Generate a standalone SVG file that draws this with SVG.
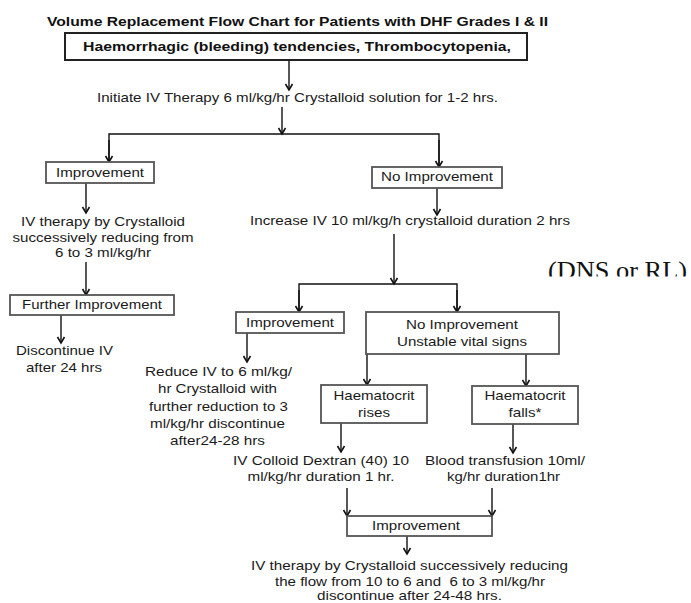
<svg xmlns="http://www.w3.org/2000/svg" width="691" height="603" viewBox="0 0 691 603">
  <defs>
    <style>
      .t { font-family: "Liberation Sans", Arial, sans-serif; font-size: 13px; fill: #1a1a1a; }
      .b { font-family: "Liberation Sans", Arial, sans-serif; font-size: 13.5px; font-weight: bold; fill: #111; }
      .box { fill: #fff; stroke: #555; stroke-width: 1.8; }
      .topbox { fill: #fff; stroke: #222; stroke-width: 2; }
      .c { stroke: #111; stroke-width: 1.4; fill: none; }
      .serif { font-family: "Liberation Serif", "Times New Roman", serif; font-size: 26px; fill: #111; }
    </style>
    <marker id="ah" viewBox="-8 -5 10 10" refX="0" refY="0" markerWidth="10" markerHeight="10" markerUnits="userSpaceOnUse" orient="auto">
      <path d="M-6,-3.5 L0,0 L-6,3.5" fill="none" stroke="#111" stroke-width="1.6"/>
    </marker>
    <clipPath id="clipDNS"><rect x="0" y="0" width="691" height="276.5"/></clipPath>
  </defs>
  <rect width="691" height="603" fill="#fff"/>

  <g id="title">
    <text class="b" x="47" y="26" textLength="501" lengthAdjust="spacingAndGlyphs">Volume Replacement Flow Chart for Patients with DHF Grades I &amp; II</text>
  </g>

  <g id="connectors">
    <line class="c" x1="289" y1="60" x2="289" y2="90" marker-end="url(#ah)"/>
    <line class="c" x1="282" y1="107" x2="282" y2="134" marker-end="url(#ah)"/>
    <polyline class="c" points="109,162 109,134 439,134 439,167"/>
    <line class="c" x1="109" y1="140" x2="109" y2="162" marker-end="url(#ah)"/>
    <line class="c" x1="439" y1="140" x2="439" y2="167" marker-end="url(#ah)"/>
    <line class="c" x1="86" y1="183" x2="86" y2="213" marker-end="url(#ah)"/>
    <line class="c" x1="86" y1="262" x2="86" y2="295" marker-end="url(#ah)"/>
    <line class="c" x1="61" y1="315" x2="61" y2="343" marker-end="url(#ah)"/>
    <line class="c" x1="437" y1="188" x2="437" y2="215" marker-end="url(#ah)"/>
    <line class="c" x1="394" y1="234" x2="394" y2="284" marker-end="url(#ah)"/>
    <polyline class="c" points="299,312 299,284 457,284 457,312"/>
    <line class="c" x1="299" y1="290" x2="299" y2="312" marker-end="url(#ah)"/>
    <line class="c" x1="457" y1="290" x2="457" y2="312" marker-end="url(#ah)"/>
    <line class="c" x1="247" y1="333" x2="247" y2="362" marker-end="url(#ah)"/>
    <line class="c" x1="367" y1="354" x2="367" y2="385" marker-end="url(#ah)"/>
    <line class="c" x1="526" y1="354" x2="526" y2="386" marker-end="url(#ah)"/>
    <line class="c" x1="341" y1="423" x2="341" y2="452" marker-end="url(#ah)"/>
    <line class="c" x1="513" y1="424" x2="513" y2="453" marker-end="url(#ah)"/>
    <line class="c" x1="347" y1="488" x2="347" y2="516" marker-end="url(#ah)"/>
    <line class="c" x1="492" y1="488" x2="492" y2="516" marker-end="url(#ah)"/>
    <line class="c" x1="407" y1="536" x2="407" y2="554" marker-end="url(#ah)"/>
  </g>

  <g id="n-start">
    <rect class="topbox" x="65" y="33" width="462" height="27"/>
    <text class="b" x="83" y="51" textLength="428" lengthAdjust="spacingAndGlyphs">Haemorrhagic (bleeding) tendencies, Thrombocytopenia,</text>
  </g>

  <g id="n-initiate">
    <text class="t" x="97" y="102" textLength="401" lengthAdjust="spacingAndGlyphs">Initiate IV Therapy 6 ml/kg/hr Crystalloid solution for 1-2 hrs.</text>
  </g>

  <g id="n-improvement1">
    <rect class="box" x="46" y="162" width="108" height="21"/>
    <text class="t" x="56" y="177" textLength="88" lengthAdjust="spacingAndGlyphs">Improvement</text>
  </g>

  <g id="n-iv-reduce">
    <text class="t" x="21" y="226" textLength="164" lengthAdjust="spacingAndGlyphs">IV therapy by Crystalloid</text>
    <text class="t" x="12.5" y="242" textLength="181" lengthAdjust="spacingAndGlyphs">successively reducing from</text>
    <text class="t" x="55" y="257" textLength="96" lengthAdjust="spacingAndGlyphs">6 to 3 ml/kg/hr</text>
  </g>

  <g id="n-further">
    <rect class="box" x="10" y="295" width="164" height="20"/>
    <text class="t" x="22" y="308.5" textLength="140" lengthAdjust="spacingAndGlyphs">Further Improvement</text>
  </g>

  <g id="n-discontinue">
    <text class="t" x="16" y="355" textLength="97" lengthAdjust="spacingAndGlyphs">Discontinue IV</text>
    <text class="t" x="26" y="372" textLength="76" lengthAdjust="spacingAndGlyphs">after 24 hrs</text>
  </g>

  <g id="n-noimprovement1">
    <rect class="box" x="372" y="167" width="130" height="21"/>
    <text class="t" x="381" y="181" textLength="112" lengthAdjust="spacingAndGlyphs">No Improvement</text>
  </g>

  <g id="n-increase">
    <text class="t" x="250" y="225" textLength="320" lengthAdjust="spacingAndGlyphs">Increase IV 10 ml/kg/h crystalloid duration 2 hrs</text>
  </g>

  <g id="n-dns">
    <text class="serif" x="548" y="279" textLength="139" lengthAdjust="spacingAndGlyphs" clip-path="url(#clipDNS)">(DNS or RL)</text>
  </g>

  <g id="n-improvement2">
    <rect class="box" x="236" y="312" width="108" height="21"/>
    <text class="t" x="246" y="327" textLength="88" lengthAdjust="spacingAndGlyphs">Improvement</text>
  </g>

  <g id="n-noimprovement2">
    <rect class="box" x="366" y="312" width="193" height="42"/>
    <text class="t" x="406" y="329" textLength="112" lengthAdjust="spacingAndGlyphs">No Improvement</text>
    <text class="t" x="397" y="346" textLength="130" lengthAdjust="spacingAndGlyphs">Unstable vital signs</text>
  </g>

  <g id="n-reduce">
    <text class="t" x="145" y="376" textLength="147" lengthAdjust="spacingAndGlyphs">Reduce IV to 6 ml/kg/</text>
    <text class="t" x="158" y="393" textLength="119" lengthAdjust="spacingAndGlyphs">hr Crystalloid with</text>
    <text class="t" x="149" y="410.5" textLength="139" lengthAdjust="spacingAndGlyphs">further reduction to 3</text>
    <text class="t" x="150" y="428" textLength="135" lengthAdjust="spacingAndGlyphs">ml/kg/hr discontinue</text>
    <text class="t" x="170" y="445" textLength="95" lengthAdjust="spacingAndGlyphs">after24-28 hrs</text>
  </g>

  <g id="n-rises">
    <rect class="box" x="321" y="385" width="106" height="38"/>
    <text class="t" x="333.5" y="400" textLength="81" lengthAdjust="spacingAndGlyphs">Haematocrit</text>
    <text class="t" x="358" y="417" textLength="32" lengthAdjust="spacingAndGlyphs">rises</text>
  </g>

  <g id="n-falls">
    <rect class="box" x="472" y="386" width="106" height="38"/>
    <text class="t" x="484.5" y="400" textLength="81" lengthAdjust="spacingAndGlyphs">Haematocrit</text>
    <text class="t" x="508.5" y="417" textLength="33" lengthAdjust="spacingAndGlyphs">falls*</text>
  </g>

  <g id="n-colloid">
    <text class="t" x="233" y="465" textLength="176" lengthAdjust="spacingAndGlyphs">IV Colloid Dextran (40) 10</text>
    <text class="t" x="247.5" y="481" textLength="147" lengthAdjust="spacingAndGlyphs">ml/kg/hr duration 1 hr.</text>
  </g>

  <g id="n-blood">
    <text class="t" x="425" y="465" textLength="160" lengthAdjust="spacingAndGlyphs">Blood transfusion 10ml/</text>
    <text class="t" x="447" y="481" textLength="113" lengthAdjust="spacingAndGlyphs">kg/hr duration1hr</text>
  </g>

  <g id="n-improvement3">
    <rect class="box" x="347" y="516" width="145" height="20"/>
    <text class="t" x="372" y="530" textLength="88" lengthAdjust="spacingAndGlyphs">Improvement</text>
  </g>

  <g id="n-final">
    <text class="t" x="251" y="570" textLength="317" lengthAdjust="spacingAndGlyphs">IV therapy by Crystalloid successively reducing</text>
    <text class="t" x="275" y="586" textLength="270" lengthAdjust="spacingAndGlyphs" style="white-space:pre">the flow from 10 to 6 and  6 to 3 ml/kg/hr</text>
    <text class="t" x="317" y="600" textLength="185" lengthAdjust="spacingAndGlyphs">discontinue after 24-48 hrs.</text>
  </g>
</svg>
